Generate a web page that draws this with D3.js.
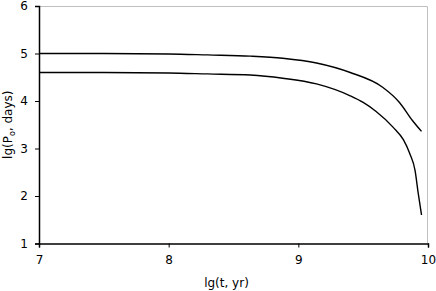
<!DOCTYPE html>
<html>
  <head>
    <style>
      body { margin: 0; background: #fff; }
      text { font-family: "DejaVu Sans", Verdana, sans-serif; }
    </style>
  </head>
  <body>
    <svg width="436" height="291"></svg>
    <script src="https://d3js.org/d3.v7.min.js"></script>
    <script>

    // values
    var upperT = [7, 7.5, 8, 8.3, 8.63, 8.88, 9.14, 9.4, 9.65, 9.78, 9.88, 9.95];
    var upperP = [5.0, 5.0, 4.99, 4.97, 4.945, 4.90, 4.80, 4.60, 4.29, 3.97, 3.59, 3.36];

    var lowerT = [7, 7.5, 8, 8.3, 8.63, 8.88, 9.14, 9.4, 9.5, 9.6, 9.73, 9.81, 9.86, 9.9, 9.925, 9.95];
    var lowerP = [4.60, 4.60, 4.59, 4.57, 4.547, 4.48, 4.36, 4.11, 3.97, 3.78, 3.45, 3.185, 2.89, 2.54, 2.05, 1.60];

    var xTicks = [7, 8, 9, 10];
    var yTicks = [1, 2, 3, 4, 5, 6];

    var svg = d3.select("svg"),
        margin = {top: 6, right: 8, bottom: 47.5, left: 39},
        width = +svg.attr("width") - margin.left - margin.right,
        height = +svg.attr("height") - margin.top - margin.bottom,
        g = svg.append("g")
          .attr("transform", "translate(" + margin.left + "," + margin.top + ")");

    var x = d3.scaleLinear().domain([7, 10]).range([0, width]);
    var y = d3.scaleLinear().domain([1, 6]).range([height, 0]);

    // plot frame: light grey top and right
    g.append("path")
        .attr("d", "M0,0.5H" + (width - 0.5) + "V" + height)
        .attr("fill", "none")
        .attr("stroke", "#c0c0c0");

    var line = d3.line()
        .x(function(d) { return x(d[0]); })
        .y(function(d) { return y(d[1]); })
        .curve(d3.curveMonotoneX);

    [[upperT, upperP], [lowerT, lowerP]].forEach(function(s) {
      g.append("path")
          .attr("fill", "none")
          .attr("stroke", "#000")
          .attr("stroke-width", 1.4)
          .attr("d", line(d3.zip(s[0], s[1])));
    });

    var xAxis = g.append("g")
        .attr("transform", "translate(0," + height + ")")
        .call(d3.axisBottom(x).tickValues(xTicks).tickFormat(d3.format("d")).tickSize(4).tickPadding(8));

    var yAxis = g.append("g")
        .call(d3.axisLeft(y).tickValues(yTicks).tickFormat(d3.format("d")).tickSize(4).tickPadding(7));

    [xAxis, yAxis].forEach(function(a) {
      a.select(".domain").attr("stroke", "#000").attr("stroke-width", 1.5);
      a.selectAll(".tick line").attr("stroke", "#000");
      a.selectAll("text")
          .attr("font-family", "DejaVu Sans, Verdana, sans-serif")
          .attr("font-size", "12px")
          .attr("fill", "#000");
    });

    svg.append("text")
        .attr("x", margin.left + width / 2 - 7)
        .attr("y", 287)
        .attr("text-anchor", "middle")
        .attr("font-size", "12px")
        .text("lg(t, yr)");

    var yt = svg.append("text")
        .attr("transform", "translate(12," + (margin.top + height / 2) + ") rotate(-90)")
        .attr("text-anchor", "middle")
        .attr("font-size", "12px");
    yt.append("tspan").text("lg(P");
    yt.append("tspan").attr("font-size", "8px").attr("dy", 3).text("o");
    yt.append("tspan").attr("dy", -3).text(", days)");

    </script>
  </body>
</html>
